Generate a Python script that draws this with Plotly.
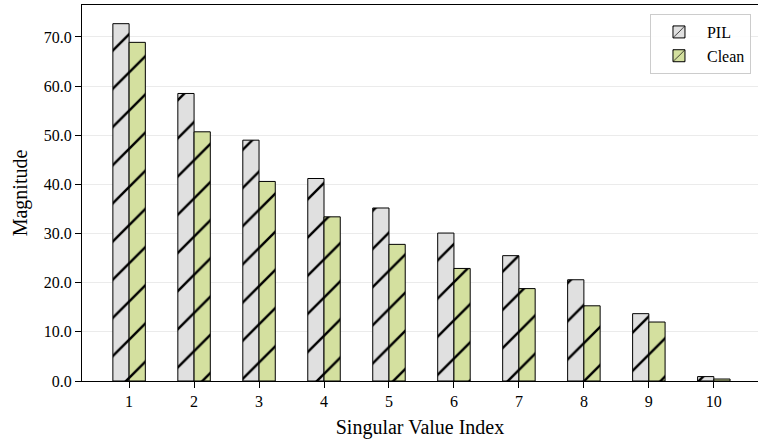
import plotly.graph_objects as go

indices = [1, 2, 3, 4, 5, 6, 7, 8, 9, 10]
pil_values = [72.7, 58.5, 49.0, 41.2, 35.2, 30.1, 25.5, 20.6, 13.7, 0.9]
clean_values = [68.9, 50.7, 40.6, 33.4, 27.8, 22.9, 18.8, 15.3, 12.0, 0.4]
y_ticks = [0, 10, 20, 30, 40, 50, 60, 70]

FONT = "Liberation Serif, Times New Roman, serif"
bar_w = 0.25

fig = go.Figure()
fig.add_trace(go.Bar(
    x=[i - bar_w / 2 for i in indices], y=pil_values, width=bar_w, name="PIL",
    marker=dict(color="#e0e0e0", line=dict(color="black", width=1),
                pattern=dict(shape="/", fgcolor="black", fgopacity=1, bgcolor="#e0e0e0", size=27, solidity=0.09)),
))
fig.add_trace(go.Bar(
    x=[i + bar_w / 2 for i in indices], y=clean_values, width=bar_w, name="Clean",
    marker=dict(color="#d4e09f", line=dict(color="black", width=1),
                pattern=dict(shape="/", fgcolor="black", fgopacity=1, bgcolor="#d4e09f", size=27, solidity=0.09)),
))

fig.update_layout(
    width=758, height=439,
    margin=dict(l=82, r=0, t=5, b=58),
    plot_bgcolor="white", paper_bgcolor="white",
    font=dict(family=FONT, size=16, color="black"),
    barmode="overlay",
    showlegend=True,
    legend=dict(x=0.9896, y=0.976, xanchor="right", yanchor="top",
                bgcolor="rgba(255,255,255,0.9)", bordercolor="#cccccc", borderwidth=1,
                font=dict(family=FONT, size=16), tracegroupgap=2, itemwidth=46),
    xaxis=dict(range=[0.275, 10.68], tickmode="array", tickvals=indices,
               ticktext=[str(i) for i in indices], automargin=False,
               showline=True, linecolor="black", linewidth=1, mirror=True,
               ticks="outside", ticklen=6, tickcolor="black", showgrid=False,
               title=dict(text="Singular Value Index", font=dict(size=20), standoff=16),
               tickfont=dict(size=16)),
    yaxis=dict(range=[0, 76.5], tickmode="array", tickvals=y_ticks,
               ticktext=[f"{v:.1f}" for v in y_ticks], automargin=False,
               showline=True, linecolor="black", linewidth=1,
               ticks="outside", ticklen=6, tickcolor="black",
               showgrid=True, gridcolor="#ebebeb", gridwidth=1, zeroline=False,
               title=dict(text="Magnitude", font=dict(size=20), standoff=10),
               tickfont=dict(size=16)),
)

fig.write_html("out.html", config={"displayModeBar": False},
               post_script="document.body.style.margin='0';document.body.style.overflow='hidden';")
